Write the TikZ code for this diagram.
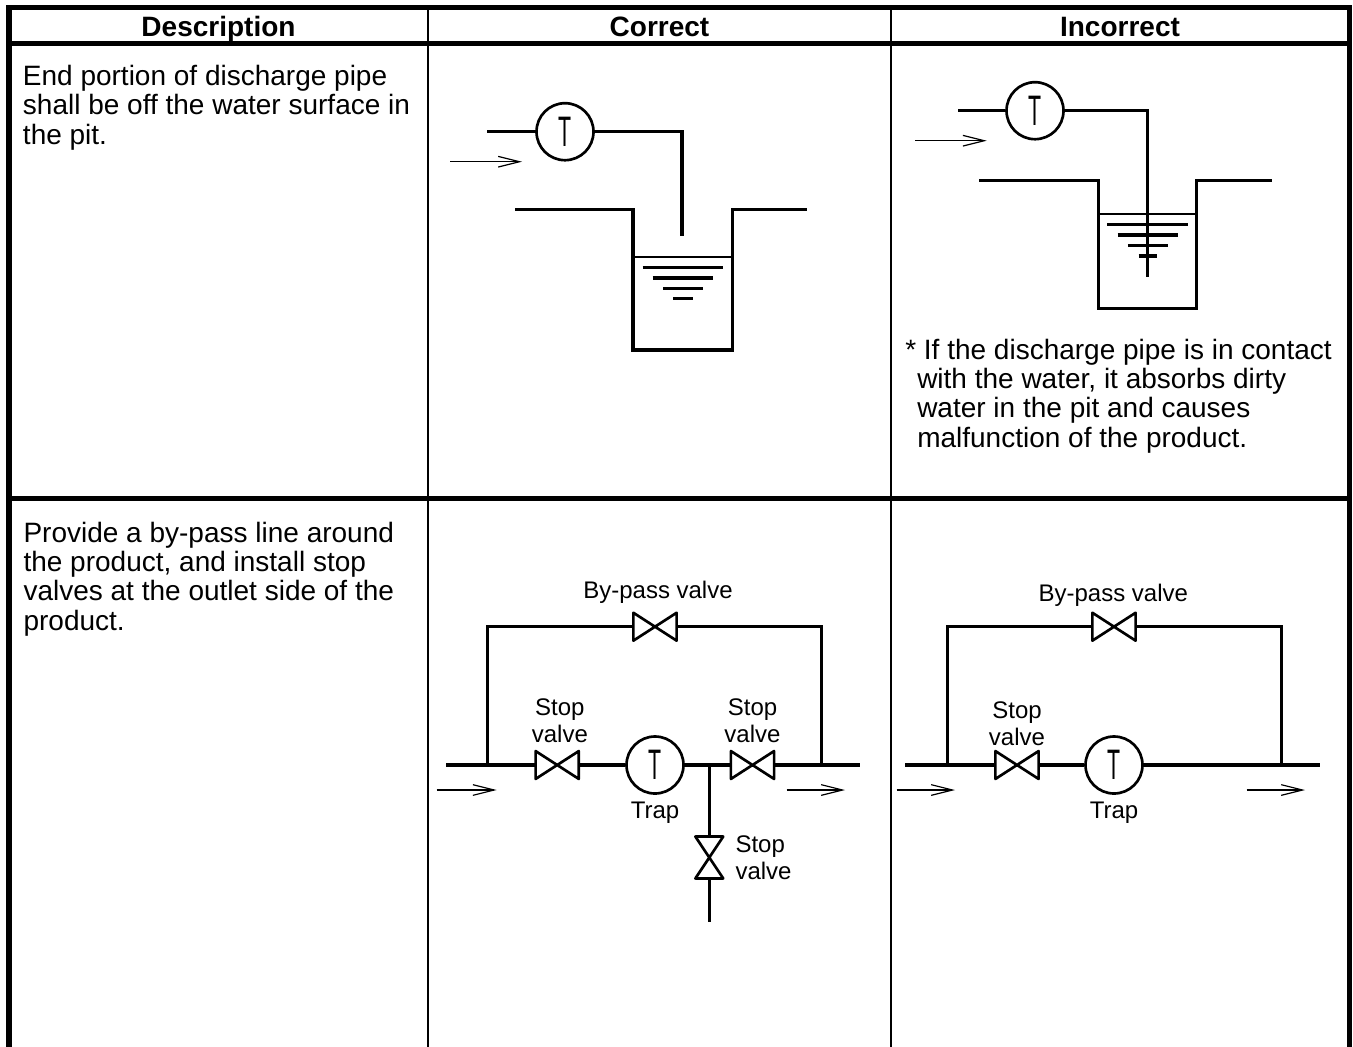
\documentclass[tikz,border=0pt]{standalone}
\usepackage{fontspec}
\usepackage{graphicx}
\setmainfont{Liberation Sans}
\usetikzlibrary{arrows.meta, positioning}

\newcommand{\valvesym}[1]{\draw[valve line] (#1.north west) -- (#1.south east) -- (#1.north east) -- (#1.south west) -- cycle;}
\newcommand{\vvalvesym}[1]{\draw[valve line] (#1.north west) -- (#1.north east) -- (#1.south west) -- (#1.south east) -- cycle;}
\newcommand{\trapT}{\scalebox{0.5}[1]{T}}

\begin{document}
\begin{tikzpicture}[x=0.75pt, y=-0.75pt,
	frame/.style={line width=3.8pt},
	rule/.style={line width=4pt},
	col/.style={line width=2pt},
	pipe/.style={line width=2.5pt},
	surface/.style={line width=1.7pt},
	valve line/.style={line width=2pt, line join=round},
	flow/.style={line width=0.9pt, -{Straight Barb[length=16pt, width=8pt]}},
	trap/.style={circle, draw, line width=2pt, minimum size=42.75pt, inner sep=0pt, font=\fontsize{32}{32}\selectfont},
	valve/.style={minimum width=32pt, minimum height=20.5pt, inner sep=0pt},
	vvalve/.style={minimum width=20.5pt, minimum height=31pt, inner sep=0pt},
	head/.style={font=\bfseries\fontsize{21}{21}\selectfont, anchor=base, inner sep=0pt},
	body/.style={font=\fontsize{21}{22}\selectfont, align=left, anchor=north west, inner sep=0pt},
	lbl/.style={font=\fontsize{18}{20}\selectfont, align=center, inner sep=0pt}]
	\useasboundingbox (0,0) rectangle (1353,1046);

	\draw[frame] (9,1050) -- (9,7.5) -- (1349.5,7.5) -- (1349.5,1050);
	\draw[rule] (9,43.5) -- (1349.5,43.5);
	\draw[rule] (9,498.5) -- (1349.5,498.5);
	\draw[col] (428,7.5) -- (428,1050);
	\draw[col] (891,7.5) -- (891,1050);

	\node[head] (desc) at (218.5,36) {Description};
	\node[head] (ok) at (659.5,36) {Correct};
	\node[head] (ng) at (1120,36) {Incorrect};

	\node[body] (txt1) at (22.7,65) {End portion of discharge pipe\\shall be off the water surface in\\the pit.};
	\node[body] (txt2) at (23.3,521.5) {Provide a by-pass line around\\the product, and install stop\\valves at the outlet side of the\\product.};
	\node[body] (note) at (905,338.5) {* If the discharge pipe is in contact\\\hspace*{9pt}with the water, it absorbs dirty\\\hspace*{9pt}water in the pit and causes\\\hspace*{9pt}malfunction of the product.};

	\node[trap] (t1) at (565,131.7) {\trapT};
	\coordinate (in1) at (487,131.7);
	\coordinate (end1) at (682,235.7);
	\draw[pipe] (in1) -- (t1);
	\draw[pipe] (t1) -| (end1);
	\coordinate (a1s) at (450,161.7);
	\coordinate (a1e) at (522,161.7);
	\draw[flow] (a1s) -- (a1e);
	\draw[pipe] (515,209.3) -- (633,209.3) -- (633,350) -- (732.7,350) -- (732.7,209.3) -- (806.7,209.3);
	\draw[surface] (633,257.3) -- (732.7,257.3);
	\foreach \w [count=\i] in {80.6,60.6,40,19.4}
		\draw[pipe] ({683-\w/2},{257.3+10.3*\i}) -- ({683+\w/2},{257.3+10.3*\i});

	\node[trap] (t2) at (1035,110.7) {\trapT};
	\coordinate (in2) at (958.3,110.7);
	\coordinate (end2) at (1147.7,276.7);
	\coordinate (a2s) at (915,140.7);
	\coordinate (a2e) at (986.7,140.7);
	\draw[flow] (a2s) -- (a2e);
	\draw[pipe] (979.3,180.7) -- (1098.3,180.7) -- (1098.3,308.3) -- (1196.7,308.3) -- (1196.7,180.7) -- (1271.7,180.7);
	\draw[surface] (1098.3,214.3) -- (1196.7,214.3);
	\foreach \w [count=\i] in {81,60.6,40,18.4}
		\draw[pipe] ({1147.8-\w/2},{214.3+10.4*\i}) -- ({1147.8+\w/2},{214.3+10.4*\i});
	\draw[pipe] (in2) -- (t2);
	\draw[pipe] (t2) -| (end2);

	\node[valve] (bv1) at (655,626.7) {};
	\node[valve] (sv1) at (557.2,765) {};
	\node[trap] (t3) at (655,765) {\trapT};
	\node[valve] (sv2) at (752.5,765) {};
	\node[vvalve] (sv3) at (709.3,857.5) {};
	\valvesym{bv1}
	\valvesym{sv1}
	\valvesym{sv2}
	\vvalvesym{sv3}
	\coordinate (in3) at (446,765);
	\coordinate (jl3) at (487.3,765);
	\coordinate (tee3) at (709.3,765);
	\coordinate (jr3) at (821.7,765);
	\coordinate (out3) at (860,765);
	\coordinate (drain3) at (709.3,921.7);
	\draw[pipe] (in3) -- (sv1) -- (t3) -- (sv2) -- (out3);
	\draw[pipe] (jl3) |- (bv1) -| (jr3);
	\draw[pipe] (tee3) -- (sv3) -- (drain3);
	\node[lbl, anchor=base] (bpl1) at (658,598.3) {By-pass valve};
	\node[lbl, above=6pt of sv1, xshift=2pt] (svl1) {Stop\\valve};
	\node[lbl, above=6pt of sv2] (svl2) {Stop\\valve};
	\node[lbl, align=left, right=9pt of sv3] (svl3) {Stop\\valve};
	\node[lbl, below=5pt of t3] (tl3) {Trap};
	\coordinate (a3s) at (436.7,790);
	\coordinate (a3e) at (496.7,790);
	\coordinate (a4s) at (786.7,790);
	\coordinate (a4e) at (845,790);
	\draw[flow] (a3s) -- (a3e);
	\draw[flow] (a4s) -- (a4e);

	\node[valve] (bv2) at (1114,626.7) {};
	\node[valve] (sv4) at (1017,765) {};
	\node[trap] (t4) at (1114,765) {\trapT};
	\valvesym{bv2}
	\valvesym{sv4}
	\coordinate (in4) at (905,765);
	\coordinate (jl4) at (947.3,765);
	\coordinate (jr4) at (1281.7,765);
	\coordinate (out4) at (1320,765);
	\draw[pipe] (in4) -- (sv4) -- (t4) -- (out4);
	\draw[pipe] (jl4) |- (bv2) -| (jr4);
	\node[lbl, anchor=base] (bpl2) at (1113.3,601.7) {By-pass valve};
	\node[lbl, above=4pt of sv4] (svl4) {Stop\\valve};
	\node[lbl, below=5pt of t4] (tl4) {Trap};
	\coordinate (a5s) at (896.7,790);
	\coordinate (a5e) at (955,790);
	\coordinate (a6s) at (1246.7,790);
	\coordinate (a6e) at (1305,790);
	\draw[flow] (a5s) -- (a5e);
	\draw[flow] (a6s) -- (a6e);
\end{tikzpicture}
\end{document}
